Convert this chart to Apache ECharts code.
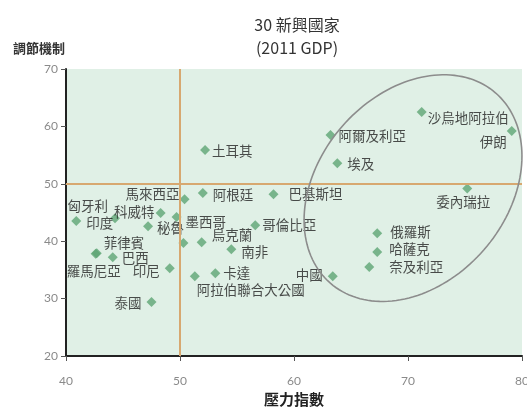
<!DOCTYPE html>
<html>
<head>
<meta charset="utf-8">
<script src="https://cdn.jsdelivr.net/npm/echarts@6/dist/echarts.min.js"></script>
<style>
html,body{margin:0;padding:0;background:#fff;}
#c{width:527px;height:412px;}
</style>
</head>
<body>
<div id="c"></div>
<script>
// ---- data ----
const countries = ['印度','匈牙利','科威特','秘魯','墨西哥','馬來西亞','阿根廷','土耳其','巴基斯坦','哥倫比亞','','烏克蘭','南非','菲律賓','羅馬尼亞','巴西','印尼','阿拉伯聯合大公國','卡達','泰國','中國','俄羅斯','哈薩克','奈及利亞','委內瑞拉','埃及','阿爾及利亞','沙烏地阿拉伯','伊朗'];
const stressIndex = [40.9,44.3,48.3,47.2,49.7,50.4,52.0,52.2,58.2,56.6,50.3,51.9,54.5,42.7,42.6,44.1,49.1,51.3,53.1,47.5,63.4,67.3,67.3,66.6,75.2,63.8,63.2,71.2,79.1];
const regulation  = [43.5,44.0,44.9,42.6,44.2,47.3,48.4,55.9,48.2,42.8,39.7,39.8,38.6,37.9,37.8,37.2,35.3,33.9,34.4,29.4,33.9,41.4,38.1,35.5,49.2,53.6,58.5,62.5,59.2];
const xTicks = {min:40, max:80, interval:10};
const yTicks = {min:20, max:70, interval:10};
const threshold = {x:50, y:50};

// ---- label layout (style, not data) ----
const labelLayout = {
  '印度':['right',0,2], '匈牙利':['left',3,-12], '科威特':['left',4,-1], '秘魯':['right',-1,2],
  '墨西哥':['right',-1,5], '馬來西亞':['left',5,-5], '阿根廷':['right',0,2], '土耳其':['right',-3,1],
  '巴基斯坦':['right',5,0], '哥倫比亞':['right',-3,0], '烏克蘭':['right',0,-7], '南非':['right',0,3],
  '菲律賓':['right',-3,-10], '羅馬尼亞':['bottom',-2,0], '巴西':['right',-1,1], '印尼':['left',0,3],
  '阿拉伯聯合大公國':['right',-8,14], '卡達':['right',-2,0], '泰國':['left',0,1], '中國':['left',0,-1],
  '俄羅斯':['right',3,-1], '哈薩克':['right',2,-3], '奈及利亞':['right',10,0], '委內瑞拉':['bottom',-4,-3],
  '埃及':['right',0,1], '阿爾及利亞':['right',-2,1], '沙烏地阿拉伯':['right',-4,6], '伊朗':['left',5,11]
};

const FONT = '"Noto Sans CJK TC","Noto Sans CJK SC",sans-serif';
const data = countries.map((n,i)=>{
  const L = labelLayout[n];
  return {
    name:n, value:[stressIndex[i], regulation[i]],
    label: L ? {show:true, position:L[0], offset:[L[1],L[2]], distance:5, formatter:'{b}'} : {show:false}
  };
});

const chart = echarts.init(document.getElementById('c'), null, {renderer:'canvas'});
chart.setOption({
  animation:false,
  backgroundColor:'#ffffff',
  title:{
    text:'30 新興國家\n(2011 GDP)',
    left:292, top:8, textAlign:'center',
    textStyle:{fontFamily:FONT, fontSize:16, fontWeight:'normal', color:'#333', lineHeight:23}
  },
  grid:{left:66, right:5, top:69, bottom:56, show:true, backgroundColor:'#e0f0e6', borderWidth:0,
        containLabel:false, outerBoundsMode:'none'},
  xAxis:{
    type:'value', min:xTicks.min, max:xTicks.max, interval:xTicks.interval,
    name:'壓力指數', nameLocation:'middle', nameGap:33,
    nameTextStyle:{fontFamily:FONT, fontSize:15, fontWeight:'bold', color:'#222'},
    axisLine:{show:true, onZero:false, lineStyle:{color:'#222', width:2}},
    axisTick:{show:true, length:5, lineStyle:{color:'#555'}},
    axisLabel:{color:'#8a8a8a', fontSize:12, margin:19, fontFamily:'Lato, sans-serif', hideOverlap:false},
    splitLine:{show:false}
  },
  yAxis:{
    type:'value', min:yTicks.min, max:yTicks.max, interval:yTicks.interval,
    name:'調節機制', nameLocation:'end', nameGap:14,
    nameTextStyle:{fontFamily:FONT, fontSize:13, fontWeight:'bold', color:'#333', align:'right', padding:[0,1,0,0]},
    axisLine:{show:true, onZero:false, lineStyle:{color:'#222', width:2}},
    axisTick:{show:true, length:5, lineStyle:{color:'#555'}},
    axisLabel:{color:'#8a8a8a', fontSize:12, margin:8, fontFamily:'Lato, sans-serif'},
    splitLine:{show:false}
  },
  series:[{
    type:'scatter',
    symbol:'diamond', symbolSize:10,
    itemStyle:{color:'#5ea574'},
    label:{color:'#222', fontSize:13.5, fontFamily:FONT, formatter:'{b}'},
    data:data,
    markLine:{
      silent:true, symbol:'none', animation:false,
      label:{show:false},
      lineStyle:{color:'#d7a870', width:2, type:'solid'},
      data:[{xAxis:threshold.x},{yAxis:threshold.y}]
    },
    z:3
  }]
});

// ellipse annotation around the commodity exporters (pixel semi-axes, rotated)
const ellipse = {center:[70.44, 49.25], a:126, b:94, angleDeg:49};
const c = chart.convertToPixel({xAxisIndex:0, yAxisIndex:0}, ellipse.center);
const th = ellipse.angleDeg*Math.PI/180;
const pts = [];
for(let k=0;k<=160;k++){
  const t = k/160*2*Math.PI;
  const ex = ellipse.a*Math.cos(t), ey = ellipse.b*Math.sin(t);
  pts.push([c[0] + ex*Math.cos(th) - ey*Math.sin(th), c[1] - (ex*Math.sin(th) + ey*Math.cos(th))]);
}
chart.setOption({
  graphic:[{
    type:'polyline', shape:{points:pts}, z:10, silent:true,
    style:{stroke:'#8c8c8c', lineWidth:1.6, fill:null}
  }]
});
</script>
</body>
</html>
